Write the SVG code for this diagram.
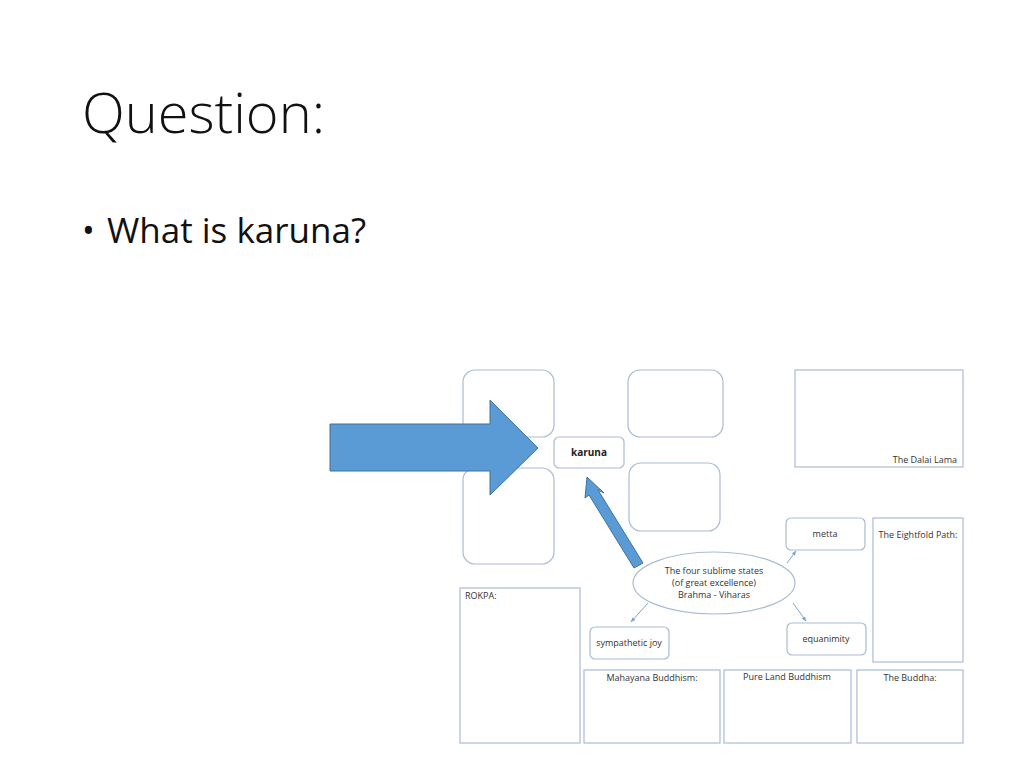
<svg xmlns="http://www.w3.org/2000/svg" width="1024" height="768" viewBox="0 0 1024 768">
<defs>
<style>
.box{fill:#fff;stroke:#a9bcd3;stroke-width:1.2}
.sq{fill:#fff;stroke:#a9bcd3;stroke-width:1.2}
.t{font-family:"Open Sans","Liberation Sans",sans-serif;font-size:9px;fill:#333}
.big{fill:#5b9bd5;stroke:#41719c;stroke-width:1}
.con{stroke:#7aa6d6;stroke-width:1;fill:none;marker-end:url(#ah)}
</style>
<marker id="ah" viewBox="0 0 10 10" refX="9" refY="5" markerWidth="5" markerHeight="5" orient="auto">
<path d="M0,1 L10,5 L0,9 z" fill="#7aa6d6"/>
</marker>
</defs>
<rect width="1024" height="768" fill="#fff"/>
<text x="82" y="133" font-family="'Open Sans','Liberation Sans',sans-serif" font-weight="300" font-size="56" fill="#111" textLength="243" lengthAdjust="spacingAndGlyphs">Question:</text>
<text x="82" y="243" font-family="'Open Sans','Liberation Sans',sans-serif" font-size="34" fill="#111">•</text>
<text x="107" y="243" font-family="'Open Sans','Liberation Sans',sans-serif" font-size="34" fill="#111" textLength="259" lengthAdjust="spacingAndGlyphs">What is karuna?</text>

<g id="box-tl"><rect class="box" x="463" y="370" width="91" height="67" rx="12"/></g>
<g id="box-bl"><rect class="box" x="463" y="468" width="91" height="96" rx="12"/></g>
<g id="box-tr"><rect class="box" x="628" y="370" width="95" height="67" rx="12"/></g>
<g id="box-mr"><rect class="box" x="629" y="463" width="91" height="68" rx="12"/></g>

<g id="big-arrow"><polygon class="big" points="330,424 490,424 490,400 538,448 490,495 490,471 330,471"/></g>

<g id="karuna"><rect class="box" x="554" y="437" width="70" height="31" rx="5"/>
<text x="589" y="456" text-anchor="middle" font-family="'Open Sans','Liberation Sans',sans-serif" font-size="10" font-weight="bold" fill="#222">karuna</text></g>

<g id="diag-arrow"><polygon class="big" points="587,477 604,493 598,490 643,563 634,568 589,495 585,498"/></g>

<g id="connectors">
<line class="con" x1="787" y1="563" x2="796" y2="551"/>
<line class="con" x1="648" y1="603" x2="631" y2="622"/>
<line class="con" x1="793" y1="603" x2="806" y2="621"/>
</g>

<g id="center"><ellipse cx="714" cy="583" rx="81" ry="31" fill="#fff" stroke="#a9bcd3" stroke-width="1.2"/>
<text class="t" x="714" y="574" text-anchor="middle">The four sublime states</text>
<text class="t" x="714" y="586" text-anchor="middle">(of great excellence)</text>
<text class="t" x="714" y="598" text-anchor="middle">Brahma - Viharas</text></g>

<g id="metta"><rect class="box" x="786" y="518" width="79" height="32" rx="5"/><text class="t" x="825" y="537" text-anchor="middle">metta</text></g>
<g id="equanimity"><rect class="box" x="787" y="623" width="79" height="32" rx="5"/><text class="t" x="826" y="642" text-anchor="middle">equanimity</text></g>
<g id="sympathetic"><rect class="box" x="590" y="627" width="79" height="32" rx="5"/><text class="t" x="629" y="646" text-anchor="middle">sympathetic joy</text></g>

<g id="dalai"><rect class="sq" x="795" y="370" width="168" height="97"/><text class="t" x="957" y="463" text-anchor="end">The Dalai Lama</text></g>
<g id="eightfold"><rect class="sq" x="873" y="518" width="90" height="144"/><text class="t" x="918" y="538" text-anchor="middle">The Eightfold Path:</text></g>
<g id="rokpa"><rect class="sq" x="460" y="588" width="120" height="155"/><text class="t" x="465" y="599">ROKPA:</text></g>
<g id="mahayana"><rect class="sq" x="584" y="670" width="136" height="73"/><text class="t" x="652" y="681" text-anchor="middle">Mahayana Buddhism:</text></g>
<g id="pureland"><rect class="sq" x="724" y="670" width="127" height="73"/><text class="t" x="787" y="680" text-anchor="middle">Pure Land Buddhism</text></g>
<g id="buddha"><rect class="sq" x="857" y="670" width="106" height="73"/><text class="t" x="910" y="681" text-anchor="middle">The Buddha:</text></g>
</svg>
